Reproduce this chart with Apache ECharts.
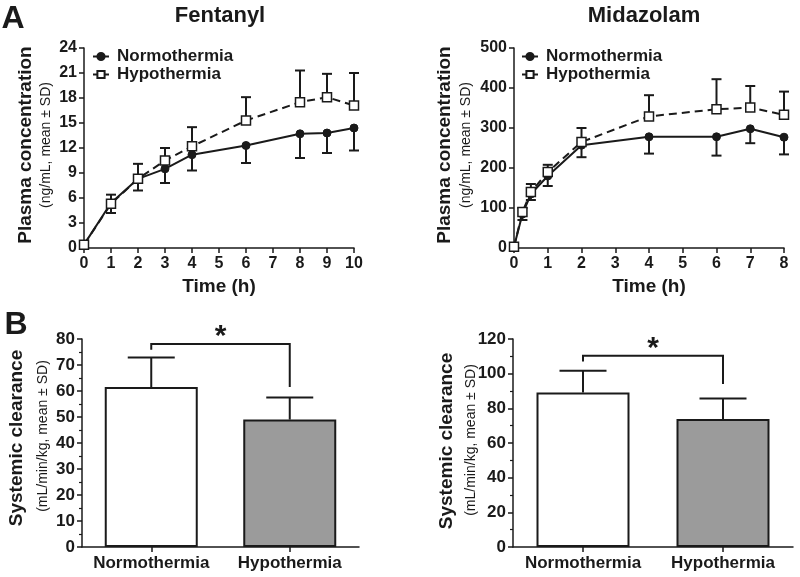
<!DOCTYPE html>
<html>
<head>
<meta charset="utf-8">
<script src="https://cdn.jsdelivr.net/npm/echarts@6/dist/echarts.min.js"></script>
<style>
html,body{margin:0;padding:0;background:#fff;}
#main{width:800px;height:577px;}
</style>
</head>
<body>
<div id="main"></div>
<script>
// ---------- data ----------
var seriesNames = ['Normothermia', 'Hypothermia'];

var fentTime = [0, 1, 2, 3, 4, 6, 8, 9, 10];
var fentNormo = [0.4, 5.4, 8.3, 9.5, 11.2, 12.3, 13.7, 13.8, 14.4];
var fentNormoSD = [0, 1.2, 1.4, 1.7, 1.9, 2.1, 2.9, 2.4, 2.7];
var fentHypo = [0.4, 5.3, 8.3, 10.5, 12.2, 15.3, 17.5, 18.1, 17.1];
var fentHypoSD = [0, 1.1, 1.8, 1.5, 2.3, 2.8, 3.8, 2.8, 3.9];

var midTime = [0, 0.25, 0.5, 1, 2, 4, 6, 7, 8];
var midNormo = [3, 85, 135, 180, 257, 278, 278, 298, 277];
var midNormoSD = [0, 15, 15, 25, 30, 42, 47, 36, 43];
var midHypo = [3, 90, 140, 190, 265, 329, 347, 351, 333];
var midHypoSD = [0, 10, 20, 18, 35, 53, 75, 54, 58];

var barCats = ['Normothermia', 'Hypothermia'];
var fentClear = [61.5, 49.0];
var fentClearSD = [11.4, 8.5];
var midClear = [89.2, 73.9];
var midClearSD = [12.5, 11.8];
// bracket: [top, left leg end, right leg end]
var fentBracket = [78.1, 75.9, 61.5];
var midBracket = [110.4, 107, 94];

// ---------- helpers ----------
var INK = '#1a1a1a';
var FONT = '"Liberation Sans", Arial, sans-serif';

function pairs(xs, ys) { return xs.map(function (x, i) { return [x, ys[i]]; }); }
function errData(xs, ys, sd, dir) {
  return xs.map(function (x, i) { return [x, ys[i], ys[i] + dir * sd[i]]; });
}
function makeErrRender(hw) {
  return function (params, api) {
    var p0 = api.coord([api.value(0), api.value(1)]);
    var p1 = api.coord([api.value(0), api.value(2)]);
    var st = { stroke: INK, lineWidth: 2 };
    return { type: 'group', children: [
      { type: 'line', shape: { x1: p0[0], y1: p0[1], x2: p1[0], y2: p1[1] }, style: st },
      { type: 'line', shape: { x1: p1[0] - hw, y1: p1[1], x2: p1[0] + hw, y2: p1[1] }, style: st }
    ]};
  };
}
var lineErrRender = makeErrRender(5);
var barErrRender = makeErrRender(23.5);
function bracketRender(params, api) {
  var a = api.coord([0, api.value(0)]);
  var b = api.coord([1, api.value(0)]);
  var aEnd = api.coord([0, api.value(1)]);
  var bEnd = api.coord([1, api.value(2)]);
  var st = { stroke: INK, lineWidth: 2, fill: 'none' };
  return { type: 'group', children: [
    { type: 'polyline', shape: { points: [[aEnd[0], aEnd[1]], [a[0], a[1]], [b[0], b[1]], [bEnd[0], bEnd[1]]] }, style: st },
    { type: 'text', x: (a[0] + b[0]) / 2, y: a[1] - 7,
      style: { text: '*', fill: INK, font: 'bold 30px ' + FONT, align: 'center', verticalAlign: 'middle', textAlign: 'center', textVerticalAlign: 'middle' } }
  ]};
}

var axisLine = { show: true, lineStyle: { color: INK, width: 1.5 } };
var axisTick = { show: true, inside: false, length: 5, lineStyle: { color: INK, width: 1.5 } };
function labelStyle(size, margin) {
  return { color: INK, fontWeight: 'bold', fontSize: size, fontFamily: FONT, margin: margin };
}

function txt(text, x, y, size, weight, rot) {
  return { type: 'text', x: x, y: y, rotation: rot || 0,
    style: { text: text, fill: INK, font: weight + ' ' + size + 'px ' + FONT,
      align: 'center', verticalAlign: 'middle', textAlign: 'center', textVerticalAlign: 'middle' } };
}

var normoLine = {
  type: 'line', name: seriesNames[0], symbol: 'circle', symbolSize: 8,
  lineStyle: { color: INK, width: 2, type: 'solid' },
  itemStyle: { color: INK, borderColor: INK, borderWidth: 1 }, z: 3
};
var hypoLine = {
  type: 'line', name: seriesNames[1], symbol: 'rect', symbolSize: 9,
  lineStyle: { color: INK, width: 2, type: [8, 5] },
  itemStyle: { color: '#fff', borderColor: INK, borderWidth: 1.5 }, z: 4
};
function withData(base, extra) { return Object.assign({}, base, extra); }

var legendBase = {
  orient: 'vertical', itemWidth: 16, itemHeight: 9, itemGap: 1,
  data: seriesNames,
  lineStyle: { type: 'solid', width: 2 },
  textStyle: { color: INK, fontWeight: 'bold', fontSize: 17, fontFamily: FONT, padding: [0, 0, 0, 3] }
};
var timeName = { color: INK, fontWeight: 'bold', fontSize: 19, fontFamily: FONT };

var option = {
  animation: false,
  backgroundColor: '#fff',
  legend: [
    Object.assign({}, legendBase, { left: 87, top: 43 }),
    Object.assign({}, legendBase, { left: 516, top: 43 })
  ],
  grid: [
    { left: 84, top: 48, width: 270, height: 200 },
    { left: 514, top: 48, width: 270, height: 200 },
    { left: 82, top: 339, width: 277, height: 208 },
    { left: 513, top: 339, width: 280, height: 208 }
  ],
  xAxis: [
    { gridIndex: 0, type: 'value', min: 0, max: 10, interval: 1,
      axisLine: axisLine, axisTick: axisTick, splitLine: { show: false }, axisLabel: labelStyle(16, 8),
      name: 'Time (h)', nameLocation: 'middle', nameGap: 29, nameTextStyle: timeName },
    { gridIndex: 1, type: 'value', min: 0, max: 8, interval: 1,
      axisLine: axisLine, axisTick: axisTick, splitLine: { show: false }, axisLabel: labelStyle(16, 8),
      name: 'Time (h)', nameLocation: 'middle', nameGap: 29, nameTextStyle: timeName },
    { gridIndex: 2, type: 'category', data: barCats, boundaryGap: true,
      axisLine: axisLine, axisTick: Object.assign({ alignWithLabel: true }, axisTick),
      axisLabel: Object.assign({ interval: 0 }, labelStyle(17, 8)) },
    { gridIndex: 3, type: 'category', data: barCats, boundaryGap: true,
      axisLine: axisLine, axisTick: Object.assign({ alignWithLabel: true }, axisTick),
      axisLabel: Object.assign({ interval: 0 }, labelStyle(17, 8)) }
  ],
  yAxis: [
    { gridIndex: 0, type: 'value', min: 0, max: 24, interval: 3,
      axisLine: axisLine, axisTick: axisTick, splitLine: { show: false }, axisLabel: labelStyle(16, 7) },
    { gridIndex: 1, type: 'value', min: 0, max: 500, interval: 100,
      axisLine: axisLine, axisTick: axisTick, splitLine: { show: false }, axisLabel: labelStyle(16, 7) },
    { gridIndex: 2, type: 'value', min: 0, max: 80, interval: 10,
      axisLine: axisLine, axisTick: axisTick, splitLine: { show: false }, axisLabel: labelStyle(17, 7),
      minorTick: { show: true, splitNumber: 2, length: 3, lineStyle: { color: INK, width: 1.2 } } },
    { gridIndex: 3, type: 'value', min: 0, max: 120, interval: 20,
      axisLine: axisLine, axisTick: axisTick, splitLine: { show: false }, axisLabel: labelStyle(17, 7),
      minorTick: { show: true, splitNumber: 2, length: 3, lineStyle: { color: INK, width: 1.2 } } }
  ],
  series: [
    // Fentanyl error bars
    { type: 'custom', xAxisIndex: 0, yAxisIndex: 0, renderItem: lineErrRender, data: errData(fentTime, fentNormo, fentNormoSD, -1), z: 1, silent: true },
    { type: 'custom', xAxisIndex: 0, yAxisIndex: 0, renderItem: lineErrRender, data: errData(fentTime, fentHypo, fentHypoSD, 1), z: 1, silent: true },
    withData(normoLine, { xAxisIndex: 0, yAxisIndex: 0, data: pairs(fentTime, fentNormo) }),
    withData(hypoLine, { xAxisIndex: 0, yAxisIndex: 0, data: pairs(fentTime, fentHypo) }),
    // Midazolam error bars
    { type: 'custom', xAxisIndex: 1, yAxisIndex: 1, renderItem: lineErrRender, data: errData(midTime, midNormo, midNormoSD, -1), z: 1, silent: true },
    { type: 'custom', xAxisIndex: 1, yAxisIndex: 1, renderItem: lineErrRender, data: errData(midTime, midHypo, midHypoSD, 1), z: 1, silent: true },
    withData(normoLine, { xAxisIndex: 1, yAxisIndex: 1, data: pairs(midTime, midNormo) }),
    withData(hypoLine, { xAxisIndex: 1, yAxisIndex: 1, data: pairs(midTime, midHypo) }),
    // Fentanyl clearance bars
    { type: 'bar', xAxisIndex: 2, yAxisIndex: 2, barWidth: 93,
      data: fentClear.map(function (v, i) { return { value: v, itemStyle: { color: i === 0 ? '#ffffff' : '#9b9b9b', borderColor: INK, borderWidth: 2 } }; }), z: 2 },
    { type: 'custom', xAxisIndex: 2, yAxisIndex: 2, renderItem: barErrRender,
      data: fentClear.map(function (v, i) { return [i, v, v + fentClearSD[i]]; }), z: 1, silent: true },
    { type: 'custom', xAxisIndex: 2, yAxisIndex: 2, renderItem: bracketRender, data: [fentBracket], z: 3, silent: true, clip: false },
    // Midazolam clearance bars
    { type: 'bar', xAxisIndex: 3, yAxisIndex: 3, barWidth: 93,
      data: midClear.map(function (v, i) { return { value: v, itemStyle: { color: i === 0 ? '#ffffff' : '#9b9b9b', borderColor: INK, borderWidth: 2 } }; }), z: 2 },
    { type: 'custom', xAxisIndex: 3, yAxisIndex: 3, renderItem: barErrRender,
      data: midClear.map(function (v, i) { return [i, v, v + midClearSD[i]]; }), z: 1, silent: true },
    { type: 'custom', xAxisIndex: 3, yAxisIndex: 3, renderItem: bracketRender, data: [midBracket], z: 3, silent: true, clip: false }
  ],
  graphic: [
    txt('A', 13, 19, 32, 'bold'),
    txt('B', 16, 325, 32, 'bold'),
    txt('Fentanyl', 220, 16, 22, 'bold'),
    txt('Midazolam', 644, 16, 22, 'bold'),
    txt('Plasma concentration', 26, 145, 19, 'bold', Math.PI / 2),
    txt('(ng/mL, mean \u00b1 SD)', 46, 145, 14, 'normal', Math.PI / 2),
    txt('Plasma concentration', 445, 145, 19, 'bold', Math.PI / 2),
    txt('(ng/mL, mean \u00b1 SD)', 466, 145, 14, 'normal', Math.PI / 2),
    txt('Systemic clearance', 17, 438, 19, 'bold', Math.PI / 2),
    txt('(mL/min/kg, mean \u00b1 SD)', 43, 436, 14, 'normal', Math.PI / 2),
    txt('Systemic clearance', 447, 441, 19, 'bold', Math.PI / 2),
    txt('(mL/min/kg, mean \u00b1 SD)', 471, 440, 14, 'normal', Math.PI / 2)
  ]
};

var chart = echarts.init(document.getElementById('main'), null, { renderer: 'canvas' });
chart.setOption(option);
</script>
</body>
</html>
